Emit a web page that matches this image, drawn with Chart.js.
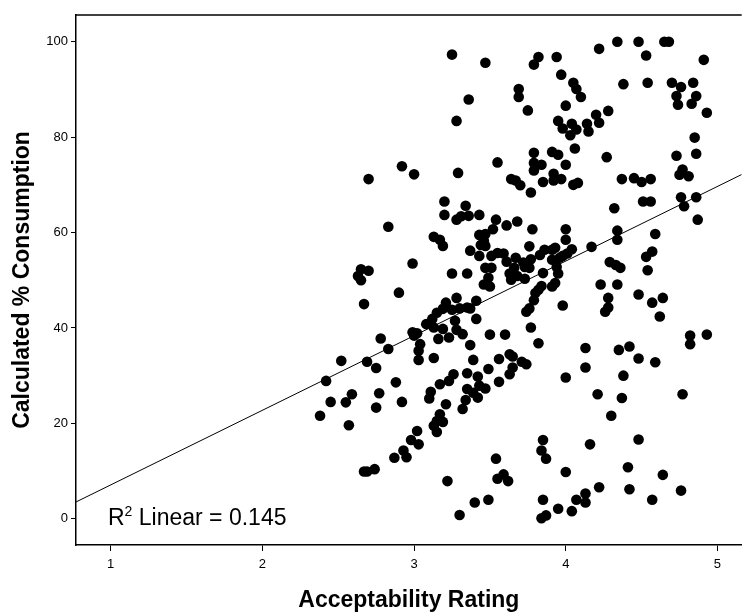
<!DOCTYPE html>
<html>
<head>
<meta charset="utf-8">
<script src="https://cdn.jsdelivr.net/npm/chart.js@4.4.0/dist/chart.umd.min.js"></script>
<style>
  html, body { margin: 0; padding: 0; background: #fff; }
  #wrap { width: 747px; height: 615px; position: relative; }
</style>
</head>
<body>
<div id="wrap"><canvas id="scatterChart"></canvas></div>
<script>
// Acceptability rating (x) and calculated % consumption (y)
const rating = [
  3.25, 3.47, 3.36, 3.28, 3.82, 3.79, 3.94, 3.97, 3.69, 3.69, 3.75, 4.05, 4.07, 4.10, 4.00, 4.20,
  3.95, 3.98, 4.04, 4.07, 4.03, 4.14, 4.15, 3.91, 3.95, 3.79, 4.06, 4.22, 4.34, 4.48, 4.65, 4.68,
  4.53, 4.91, 4.38, 4.54, 4.70, 4.76, 4.84, 4.73, 4.86, 4.74, 4.83, 4.93, 4.28, 4.22, 4.85, 4.27,
  4.73, 4.86, 4.37, 4.45, 4.50, 4.56, 4.77, 4.75, 4.81, 4.51, 4.56, 4.32, 4.76, 4.86, 4.78, 4.87,
  4.34, 4.34, 4.59, 4.57, 4.53, 4.29, 4.33, 4.36, 4.54, 4.23, 4.34, 4.28, 4.28, 4.26, 4.48, 4.57,
  4.64, 4.62, 4.82, 4.82, 4.93, 4.35, 4.42, 4.48, 4.59, 4.38, 4.21, 4.37, 4.77, 4.30, 4.48, 4.41,
  4.64, 4.22, 4.42, 4.57, 4.76, 3.85, 3.84, 3.87, 4.16, 3.54, 4.00, 3.22, 3.55, 3.59, 3.62, 3.40,
  3.49, 3.30, 3.85, 3.95, 4.04, 4.07, 4.13, 4.13, 3.84, 3.87, 2.57, 2.67, 2.69, 2.74, 2.87, 2.93,
  2.95, 2.98, 3.02, 3.03, 3.13, 3.15, 3.19, 2.90, 2.67, 2.78, 2.83, 2.52, 2.69, 2.75, 2.42, 2.88,
  2.59, 2.77, 2.45, 2.55, 2.92, 2.75, 2.38, 2.99, 3.00, 3.02, 3.04, 3.03, 3.03, 3.13, 3.08, 3.12,
  3.15, 3.19, 3.21, 3.13, 3.16, 3.19, 3.17, 3.11, 3.10, 3.21, 3.17, 3.15, 2.92, 3.00, 2.70, 3.20,
  3.20, 2.83, 3.13, 3.17, 3.19, 2.99, 2.65, 2.70, 2.63, 2.65, 3.55, 3.29, 3.79, 3.84, 3.79, 3.92,
  3.97, 3.92, 3.85, 4.05, 4.08, 3.64, 3.67, 3.70, 3.77, 4.00, 3.34, 3.28, 3.31, 3.36, 3.43, 3.54,
  3.61, 3.68, 3.52, 3.78, 4.00, 3.43, 3.47, 3.46, 3.44, 3.47, 4.00, 3.76, 4.17, 3.37, 3.43, 3.51,
  3.55, 3.59, 3.67, 3.72, 3.77, 3.86, 3.91, 3.93, 3.98, 3.96, 4.04, 4.01, 3.83, 3.91, 3.61, 3.47,
  3.51, 3.63, 3.66, 3.68, 3.73, 3.76, 3.94, 3.95, 3.85, 3.25, 3.35, 3.49, 3.46, 3.50, 3.64, 3.73,
  3.84, 3.91, 3.93, 3.28, 3.41, 3.25, 3.30, 3.35, 3.37, 3.27, 3.41, 3.23, 3.28, 3.32, 3.37, 3.50,
  3.60, 3.39, 3.56, 3.63, 3.65, 3.49, 3.71, 3.74, 3.65, 3.63, 3.26, 3.35, 3.23, 3.42, 3.56, 3.43,
  3.47, 3.35, 3.39, 3.42, 3.34, 3.32, 3.82, 3.80, 3.79, 3.76, 3.74, 3.77, 3.82, 3.98, 4.13, 4.13,
  4.00
];
const consumption = [
  97.3, 95.6, 87.9, 83.4, 96.8, 95.2, 96.8, 93.1, 90.1, 88.4, 85.6, 91.4, 90.1, 88.4, 86.6, 84.7,
  83.4, 81.8, 82.8, 81.6, 80.4, 82.8, 81.2, 76.9, 76.3, 76.7, 77.6, 98.5, 100, 100, 100, 100,
  97.1, 96.2, 91.1, 91.4, 91.4, 90.5, 91.4, 88.6, 88.6, 86.8, 87.0, 85.1, 85.5, 83.0, 79.9, 75.8,
  76.1, 76.5, 71.2, 71.4, 70.6, 71.2, 73.2, 72.1, 71.8, 66.5, 66.5, 65.1, 67.4, 67.4, 65.5, 62.7,
  60.4, 58.5, 59.7, 56.0, 54.9, 53.8, 53.2, 52.6, 52.1, 49.1, 49.1, 46.3, 44.3, 43.4, 47.0, 45.3,
  46.3, 42.4, 38.4, 36.6, 38.6, 35.4, 36.1, 33.6, 32.8, 30.0, 26.1, 25.3, 26.1, 21.6, 16.6, 10.8,
  9.2, 6.6, 6.2, 4.0, 5.9, 16.5, 14.3, 12.6, 15.6, 12.6, 9.8, 7.9, 8.4, 9.3, 7.9, 3.4,
  4.0, 0.8, 4.0, 2.1, 1.6, 4.0, 5.3, 3.4, 0.1, 0.7, 19.6, 9.9, 9.9, 10.4, 12.8, 14.3,
  12.9, 16.5, 18.4, 15.6, 19.5, 18.2, 20.3, 47.4, 45.0, 37.8, 35.6, 33.1, 32.9, 31.6, 28.9, 28.6,
  26.1, 26.3, 24.5, 24.4, 24.5, 23.3, 21.6, 39.1, 38.4, 38.9, 36.6, 35.2, 33.3, 33.7, 40.8, 41.9,
  43.2, 44.0, 45.3, 40.1, 37.7, 39.8, 28.2, 26.6, 25.2, 24.0, 21.9, 20.5, 73.9, 72.2, 71.2, 66.5,
  63.7, 61.2, 59.1, 58.5, 57.2, 53.5, 52.3, 52.0, 50.9, 50.0, 74.7, 72.5, 74.6, 74.2, 73.0, 72.3,
  71.2, 70.9, 70.6, 70.0, 70.4, 71.2, 70.9, 69.9, 68.4, 74.2, 65.6, 62.7, 63.4, 63.5, 63.7, 62.7,
  61.5, 62.3, 60.7, 60.7, 60.7, 59.5, 59.7, 58.3, 57.4, 57.2, 58.5, 57.1, 57.0, 56.2, 55.1, 55.1,
  55.7, 55.6, 54.7, 53.7, 54.4, 56.4, 56.4, 56.8, 55.1, 54.7, 56.5, 55.6, 55.3, 54.3, 53.9, 52.6,
  52.6, 51.4, 52.6, 50.9, 52.8, 52.6, 52.8, 51.4, 51.5, 51.4, 51.4, 50.5, 49.1, 48.7, 50.1, 50.3,
  48.8, 48.7, 49.4, 46.3, 45.7, 43.8, 44.1, 44.3, 44.1, 41.5, 41.9, 38.0, 39.6, 38.7, 36.4, 38.6,
  38.6, 33.3, 33.5, 34.5, 34.0, 31.4, 32.9, 32.4, 31.7, 30.3, 30.3, 30.5, 28.9, 29.8, 28.7, 27.9,
  27.3, 27.2, 26.4, 25.4, 24.9, 23.0, 48.0, 47.3, 45.8, 44.1, 43.4, 40.1, 36.8, 44.7, 35.8, 31.7,
  29.6
];

const xTicks = [1, 2, 3, 4, 5];
const yTicks = [0, 20, 40, 60, 80, 100];
const xRange = [0.771, 5.16];
const yRange = [-5.5, 105.6];

// linear fit shown on the chart
const fitIntercept = -8.54;
const fitSlope = 15.64;
const fitLabel = 'Linear = 0.145';

const FONT = 'Arial, "Liberation Sans", sans-serif';

const points = rating.map((r, i) => ({ x: r, y: consumption[i] }));
const fitLine = xRange.map(x => ({ x, y: fitIntercept + fitSlope * x }));

const extras = {
  id: 'extras',
  afterDraw(chart) {
    const { ctx, chartArea: a } = chart;
    ctx.save();
    // top edge of the frame
    ctx.strokeStyle = '#000';
    ctx.lineWidth = 1.5;
    ctx.beginPath();
    ctx.moveTo(a.left, a.top);
    ctx.lineTo(a.right, a.top);
    ctx.stroke();

    // R² label
    ctx.fillStyle = '#000';
    ctx.textBaseline = 'alphabetic';
    ctx.textAlign = 'left';
    let x = 108;
    const y = 525;
    ctx.font = '23px ' + FONT;
    ctx.fillText('R', x, y);
    x += ctx.measureText('R').width;
    ctx.font = '14px ' + FONT;
    ctx.fillText('2', x, y - 9);
    x += ctx.measureText('2').width;
    ctx.font = '23px ' + FONT;
    ctx.fillText(' ' + fitLabel, x, y);

    // axis titles
    ctx.font = 'bold 23px ' + FONT;
    ctx.textAlign = 'center';
    ctx.textBaseline = 'middle';
    ctx.fillText('Acceptability Rating', (a.left + a.right) / 2, 601);
    ctx.translate(23, (a.top + a.bottom) / 2);
    ctx.rotate(-Math.PI / 2);
    ctx.fillText('Calculated % Consumption', 0, 0);
    ctx.restore();
  }
};

new Chart(document.getElementById('scatterChart'), {
  type: 'scatter',
  data: {
    datasets: [
      {
        data: points,
        pointRadius: 5.3,
        pointBackgroundColor: '#000',
        pointBorderWidth: 0,
        order: 2
      },
      {
        type: 'line',
        data: fitLine,
        borderColor: '#000',
        borderWidth: 1,
        pointRadius: 0,
        fill: false,
        order: 1
      }
    ]
  },
  options: {
    responsive: true,
    maintainAspectRatio: false,
    animation: false,
    layout: { padding: { top: 15, right: 0, left: 0, bottom: 0 } },
    plugins: {
      legend: { display: false },
      tooltip: { enabled: false }
    },
    scales: {
      x: {
        type: 'linear',
        min: xRange[0],
        max: xRange[1],
        afterFit: s => { s.height = 70; },
        afterBuildTicks: s => { s.ticks = xTicks.map(v => ({ value: v })); },
        ticks: { color: '#000', font: { family: FONT, size: 13 }, padding: 6 },
        grid: { drawOnChartArea: false, drawTicks: true, tickLength: 6, color: '#000' },
        border: { display: true, color: '#000', width: 1.5 }
      },
      y: {
        min: yRange[0],
        max: yRange[1],
        afterFit: s => { s.width = 76; },
        afterBuildTicks: s => { s.ticks = yTicks.map(v => ({ value: v })); },
        ticks: { color: '#000', font: { family: FONT, size: 13 }, padding: 3 },
        grid: { drawOnChartArea: false, drawTicks: true, tickLength: 5, color: '#000' },
        border: { display: true, color: '#000', width: 1.5 }
      }
    }
  },
  plugins: [extras]
});
</script>
</body>
</html>
